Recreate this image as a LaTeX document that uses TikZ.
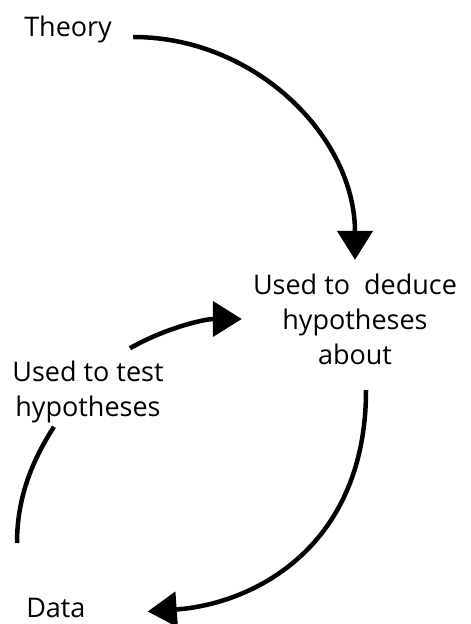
\documentclass[tikz,border=0pt]{standalone}
\usepackage{fontspec}
\setmainfont{Open Sans}
\usetikzlibrary{arrows.meta}

\begin{document}
\begin{tikzpicture}[x=1pt, y=1pt, line width=4.5pt, ->, >={Triangle[width=35pt,length=29pt]},
        every node/.append style={font=\fontsize{27}{35}\selectfont, inner sep=0pt}]
      \tikzstyle{word} = [align=center,color=black]
      \useasboundingbox (0,0) rectangle (471,624);
      \node (Theory) [word, anchor=base west] at (22,587) {Theory};
      \node (deduce) [word, inner xsep=9pt, inner ysep=11.5pt] at (355,305) {Used to\ \ deduce\\hypotheses\\about};
      \node (test) [word, inner sep=10pt] at (88,232.5) {Used to test\\hypotheses};
      \node (Data) [word, anchor=base west] at (24,6) {Data};
      \coordinate (loop) at (17,81);
      \draw ([xshift=19pt]Theory.base east) to[out=0,in=90] (deduce.north);
      \draw[shorten <=12pt] ([xshift=11pt]deduce.south) to[out=-90,in=4,out looseness=1.35,in looseness=0.85] ([xshift=60pt,yshift=-3pt]Data.east);
      \draw[-] (loop) to[out=90,in=-123,looseness=0.9] ([xshift=-34pt,yshift=8pt]test.south);
      \draw ([xshift=42pt]test.north) to[out=30,in=180,looseness=0.85] (deduce.west);
    \end{tikzpicture}
\end{document}
